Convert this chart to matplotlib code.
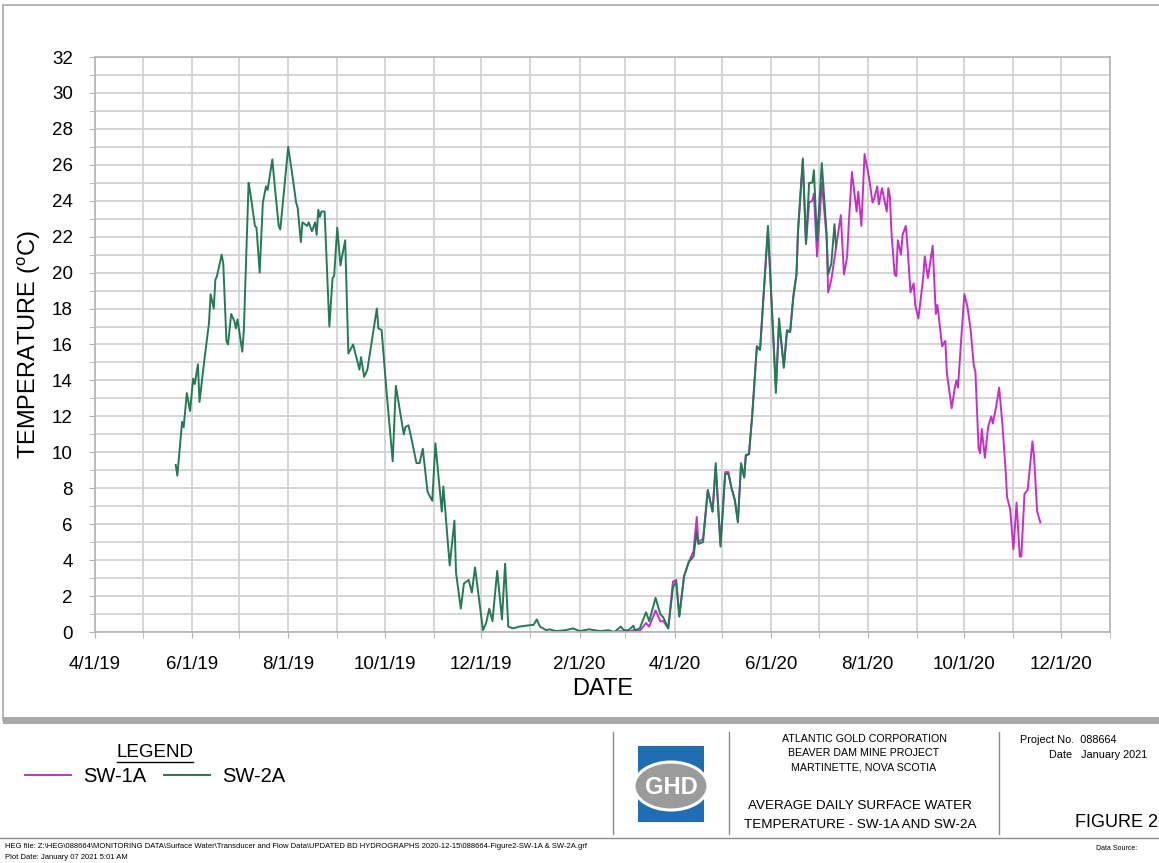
import matplotlib
matplotlib.use("Agg")
import matplotlib.pyplot as plt
import matplotlib.dates as mdates
from matplotlib.patches import Rectangle, Ellipse
import pandas as pd

plt.rcParams['font.family'] = ['Liberation Sans', 'DejaVu Sans']
plt.rcParams['mathtext.fontset'] = 'custom'
plt.rcParams['mathtext.rm'] = 'Liberation Sans'

NARROW = ['Liberation Sans Narrow', 'Liberation Sans', 'DejaVu Sans']

# SW-2A daily average temperature (deg C)
sw2a_dates = [
    "2019-05-22", "2019-05-23", "2019-05-26", "2019-05-27", "2019-05-29", "2019-05-31",
    "2019-06-02", "2019-06-03", "2019-06-05", "2019-06-06", "2019-06-09", "2019-06-12",
    "2019-06-13", "2019-06-15", "2019-06-16", "2019-06-17", "2019-06-20", "2019-06-21",
    "2019-06-23", "2019-06-24", "2019-06-26", "2019-06-28", "2019-06-29", "2019-06-30",
    "2019-07-03", "2019-07-04", "2019-07-07", "2019-07-08", "2019-07-11", "2019-07-12",
    "2019-07-14", "2019-07-16", "2019-07-18", "2019-07-19", "2019-07-22", "2019-07-23",
    "2019-07-26", "2019-07-27", "2019-07-29", "2019-08-01", "2019-08-04", "2019-08-06",
    "2019-08-07", "2019-08-09", "2019-08-10", "2019-08-13", "2019-08-14", "2019-08-16",
    "2019-08-18", "2019-08-19", "2019-08-20", "2019-08-21", "2019-08-22", "2019-08-24",
    "2019-08-27", "2019-08-29", "2019-08-30", "2019-09-01", "2019-09-03", "2019-09-04",
    "2019-09-06", "2019-09-08", "2019-09-11", "2019-09-15", "2019-09-16", "2019-09-18",
    "2019-09-20", "2019-09-23", "2019-09-26", "2019-09-27", "2019-09-29", "2019-10-02",
    "2019-10-06", "2019-10-08", "2019-10-13", "2019-10-14", "2019-10-16", "2019-10-18",
    "2019-10-21", "2019-10-23", "2019-10-25", "2019-10-28", "2019-10-31", "2019-11-02",
    "2019-11-06", "2019-11-07", "2019-11-11", "2019-11-14", "2019-11-15", "2019-11-18",
    "2019-11-20", "2019-11-23", "2019-11-25", "2019-11-27", "2019-12-02", "2019-12-04",
    "2019-12-06", "2019-12-08", "2019-12-11", "2019-12-14", "2019-12-16", "2019-12-18",
    "2019-12-21", "2019-12-25", "2019-12-29", "2020-01-03", "2020-01-05", "2020-01-07",
    "2020-01-11", "2020-01-13", "2020-01-17", "2020-01-23", "2020-01-28", "2020-02-01",
    "2020-02-07", "2020-02-14", "2020-02-19", "2020-02-23", "2020-02-27", "2020-02-29",
    "2020-03-03", "2020-03-06", "2020-03-07", "2020-03-10", "2020-03-14", "2020-03-16",
    "2020-03-20", "2020-03-23", "2020-03-25", "2020-03-28", "2020-03-31", "2020-04-02",
    "2020-04-04", "2020-04-07", "2020-04-10", "2020-04-13", "2020-04-15", "2020-04-16",
    "2020-04-19", "2020-04-22", "2020-04-25", "2020-04-27", "2020-04-30", "2020-05-03",
    "2020-05-05", "2020-05-07", "2020-05-09", "2020-05-11", "2020-05-13", "2020-05-15",
    "2020-05-16", "2020-05-18", "2020-05-20", "2020-05-23", "2020-05-25", "2020-05-30",
    "2020-06-04", "2020-06-06", "2020-06-09", "2020-06-11", "2020-06-13", "2020-06-15",
    "2020-06-17", "2020-06-18", "2020-06-21", "2020-06-23", "2020-06-25", "2020-06-27",
    "2020-06-28", "2020-06-30", "2020-07-03", "2020-07-06", "2020-07-07", "2020-07-09",
    "2020-07-11", "2020-07-12",
]
sw2a_temp = [
    9.3, 8.7, 11.7, 11.4, 13.3, 12.3,
    14.1, 13.8, 14.9, 12.8, 15.1, 17.2,
    18.8, 18.0, 19.6, 19.8, 21.0, 20.5,
    16.2, 16.0, 17.7, 17.3, 16.9, 17.4,
    15.6, 16.8, 25.0, 24.5, 22.6, 22.5,
    20.0, 23.9, 24.8, 24.6, 26.3, 25.3,
    22.6, 22.4, 24.2, 27.0, 25.2, 23.9,
    23.6, 21.7, 22.8, 22.6, 22.8, 22.3,
    22.8, 22.1, 23.5, 23.1, 23.4, 23.4,
    17.0, 19.7, 19.8, 22.5, 20.4, 20.9,
    21.8, 15.5, 16.0, 14.6, 15.3, 14.2,
    14.6, 16.3, 18.0, 16.9, 16.8, 13.5,
    9.5, 13.7, 11.0, 11.4, 11.5, 10.7,
    9.4, 9.4, 10.2, 7.8, 7.3, 10.5,
    6.7, 8.1, 3.7, 6.2, 3.3, 1.3,
    2.7, 2.9, 2.2, 3.6, 0.1, 0.5,
    1.3, 0.6, 3.4, 0.7, 3.8, 0.3,
    0.2, 0.3, 0.35, 0.4, 0.7, 0.3,
    0.1, 0.15, 0.05, 0.1, 0.2, 0.05,
    0.15, 0.05, 0.1, 0.0, 0.3, 0.1,
    0.1, 0.35, 0.1, 0.2, 1.1, 0.6,
    1.9, 1.0, 0.8, 0.2, 2.5, 2.8,
    0.85, 3.1, 3.9, 4.2, 5.6, 4.9,
    5.0, 7.9, 6.7, 9.4, 4.75, 8.8,
    8.8, 8.0, 7.35, 6.1, 9.4, 8.6,
    9.85, 9.9, 12.0, 15.9, 15.7, 22.6,
    13.3, 17.45, 14.7, 16.8, 16.7, 18.7,
    19.9, 22.4, 26.35, 21.6, 25.0, 25.0,
    25.7, 21.8, 26.1, 22.2, 19.9, 20.5,
    22.7, 21.4,
]

# SW-1A daily average temperature (deg C)
sw1a_dates = [
    "2020-02-23", "2020-02-27", "2020-03-03", "2020-03-06", "2020-03-10", "2020-03-14",
    "2020-03-16", "2020-03-20", "2020-03-23", "2020-03-25", "2020-03-28", "2020-03-31",
    "2020-04-02", "2020-04-04", "2020-04-07", "2020-04-10", "2020-04-13", "2020-04-15",
    "2020-04-16", "2020-04-19", "2020-04-22", "2020-04-25", "2020-04-27", "2020-04-30",
    "2020-05-03", "2020-05-05", "2020-05-07", "2020-05-09", "2020-05-11", "2020-05-13",
    "2020-05-15", "2020-05-16", "2020-05-18", "2020-05-20", "2020-05-23", "2020-05-25",
    "2020-05-30", "2020-06-04", "2020-06-06", "2020-06-09", "2020-06-11", "2020-06-13",
    "2020-06-15", "2020-06-17", "2020-06-18", "2020-06-21", "2020-06-23", "2020-06-25",
    "2020-06-27", "2020-06-28", "2020-06-30", "2020-07-03", "2020-07-06", "2020-07-07",
    "2020-07-09", "2020-07-12", "2020-07-15", "2020-07-17", "2020-07-19", "2020-07-20",
    "2020-07-22", "2020-07-25", "2020-07-26", "2020-07-28", "2020-07-30", "2020-08-02",
    "2020-08-04", "2020-08-05", "2020-08-07", "2020-08-08", "2020-08-10", "2020-08-13",
    "2020-08-14", "2020-08-15", "2020-08-16", "2020-08-18", "2020-08-19", "2020-08-20",
    "2020-08-22", "2020-08-23", "2020-08-25", "2020-08-26", "2020-08-28", "2020-08-30",
    "2020-08-31", "2020-09-02", "2020-09-05", "2020-09-06", "2020-09-08", "2020-09-11",
    "2020-09-13", "2020-09-14", "2020-09-17", "2020-09-19", "2020-09-20", "2020-09-23",
    "2020-09-25", "2020-09-26", "2020-09-27", "2020-09-29", "2020-10-01", "2020-10-03",
    "2020-10-05", "2020-10-07", "2020-10-08", "2020-10-10", "2020-10-11", "2020-10-12",
    "2020-10-14", "2020-10-16", "2020-10-18", "2020-10-19", "2020-10-21", "2020-10-23",
    "2020-10-25", "2020-10-27", "2020-10-28", "2020-10-30", "2020-11-01", "2020-11-03",
    "2020-11-05", "2020-11-06", "2020-11-08", "2020-11-10", "2020-11-13", "2020-11-14",
    "2020-11-16", "2020-11-18",
]
sw1a_temp = [
    0.0, 0.05, 0.0, 0.1, 0.05, 0.5,
    0.3, 1.2, 0.6, 0.6, 0.2, 2.8,
    2.9, 0.9, 3.1, 3.9, 4.5, 6.4,
    5.0, 5.2, 7.9, 6.7, 9.2, 4.9,
    8.9, 8.9, 8.0, 7.4, 6.2, 9.3,
    8.6, 9.8, 9.9, 12.0, 15.9, 15.7,
    22.4, 13.6, 17.2, 14.8, 16.7, 16.7,
    18.6, 19.9, 22.3, 26.2, 21.6, 23.9,
    24.0, 24.4, 20.9, 25.0, 22.0, 18.9,
    19.6, 21.4, 23.2, 19.9, 20.9, 22.7,
    25.6, 23.4, 24.5, 22.6, 26.6, 25.2,
    23.9, 24.1, 24.8, 23.8, 24.7, 23.4,
    24.7, 24.2, 22.2, 19.9, 19.8, 21.8,
    21.0, 22.1, 22.6, 21.6, 18.9, 19.4,
    18.2, 17.45, 19.7, 20.9, 19.7, 21.5,
    17.7, 18.2, 15.9, 16.2, 14.4, 12.45,
    13.6, 14.0, 13.6, 16.25, 18.8, 18.1,
    16.8, 14.8, 14.5, 10.2, 9.95, 11.3,
    9.7, 11.4, 12.0, 11.6, 12.5, 13.6,
    11.6, 9.1, 7.5, 6.8, 4.6, 7.2,
    4.2, 4.2, 7.7, 7.9, 10.6, 9.8,
    6.7, 6.1,
]

series_names = ["SW-1A", "SW-2A"]
series_colors = ["#c62fc6", "#237a55"]

W, H = 1159, 863
fig = plt.figure(figsize=(W / 100, H / 100), dpi=100)

# overlay in pixel coordinates for the drawing sheet (frame, title block)
sheet = fig.add_axes([0, 0, 1, 1], zorder=0)
sheet.set_xlim(0, W)
sheet.set_ylim(H, 0)
sheet.axis('off')

sheet.plot([3, W], [5, 5], color='#a8a8a8', lw=1.2)
sheet.plot([3, 3], [5, 720], color='#a8a8a8', lw=1.2)
sheet.add_patch(Rectangle((3, 717), W, 7, color='#a9a9a9', lw=0))
for xv in [613, 729, 999]:
    sheet.plot([xv, xv], [732, 834], color='#8a8a8a', lw=1.0)
sheet.plot([0, W], [838, 838], color='#8a8a8a', lw=1.0)

# GHD logo
sheet.add_patch(Rectangle((638, 746), 66, 76, color='#1f6db3', lw=0))
sheet.add_patch(Ellipse((671, 786), 74, 48, facecolor='#9b9b9b', edgecolor='white', lw=2.2))
sheet.text(671, 787, "GHD", color='white', fontsize=17, fontweight='bold',
           ha='center', va='center')

cx = 864
sheet.text(cx, 739, "ATLANTIC GOLD CORPORATION", family=NARROW, fontsize=7.7, ha='center', va='center')
sheet.text(cx, 753, "BEAVER DAM MINE PROJECT", family=NARROW, fontsize=7.7, ha='center', va='center')
sheet.text(cx, 767, "MARTINETTE, NOVA SCOTIA", family=NARROW, fontsize=7.7, ha='center', va='center')
sheet.text(860, 806, "AVERAGE DAILY SURFACE WATER", family=NARROW, fontsize=9.7, ha='center', va='center')
sheet.text(860, 825, "TEMPERATURE - SW-1A AND SW-2A", family=NARROW, fontsize=9.7, ha='center', va='center')

sheet.text(1020, 740, "Project No.  088664", family=NARROW, fontsize=7.8, ha='left', va='center')
sheet.text(1049, 755, "Date   January 2021", family=NARROW, fontsize=7.8, ha='left', va='center')
sheet.text(1075, 822, "FIGURE 2", family=NARROW, fontsize=13, ha='left', va='center')
sheet.text(1096, 848, "Data Source:", family=NARROW, fontsize=5, ha='left', va='center')

sheet.text(5, 846, "HEG file: Z:\\HEG\\088664\\MONITORING DATA\\Surface Water\\Transducer and Flow Data\\"
           "UPDATED BD HYDROGRAPHS 2020-12-15\\088664-Figure2-SW-1A & SW-2A.grf",
           family=NARROW, fontsize=5.5, ha='left', va='center')
sheet.text(5, 857, "Plot Date: January 07 2021 5:01 AM", family=NARROW, fontsize=5.5, ha='left', va='center')

# legend title with underline
sheet.text(155, 752, "LEGEND", fontsize=13.5, ha='center', va='center')
sheet.plot([117, 193], [761.5, 761.5], color='black', lw=1.0)

# main chart
ax = fig.add_axes([95 / W, 1 - 632 / H, (1110 - 95) / W, (632 - 57) / H], zorder=1)
ax.patch.set_alpha(0)

x1 = pd.to_datetime(sw1a_dates)
x2 = pd.to_datetime(sw2a_dates)
l1, = ax.plot(x1, sw1a_temp, color=series_colors[0], lw=1.4, label=series_names[0])
l2, = ax.plot(x2, sw2a_temp, color=series_colors[1], lw=1.4, label=series_names[1])

ax.set_xlim(pd.Timestamp("2019-04-01"), pd.Timestamp("2021-01-01"))
ax.set_ylim(0, 32)
ax.xaxis.set_major_locator(mdates.MonthLocator(bymonth=[2, 4, 6, 8, 10, 12]))
ax.xaxis.set_minor_locator(mdates.MonthLocator())
ax.xaxis.set_major_formatter(plt.FuncFormatter(
    lambda v, p: (lambda d: f"{d.month}/{d.day}/{d:%y}")(mdates.num2date(v))))
ax.set_yticks(range(0, 33, 2))
ax.set_yticks(range(1, 32, 2), minor=True)

ax.grid(True, which='both', color='#d2d2d2', lw=1.3)
ax.set_axisbelow(True)
for s in ax.spines.values():
    s.set_color('#b4b4b4')
    s.set_linewidth(1.2)
ax.tick_params(which='both', direction='out', length=4, color='#b4b4b4', labelsize=13.5)
ax.tick_params(axis='x', pad=13)
ax.tick_params(axis='y', pad=12)

ax.set_xlabel("DATE", fontsize=17, labelpad=4)
ax.set_ylabel(r"TEMPERATURE ($^{\mathrm{o}}$C)", fontsize=17, labelpad=6)

fig.legend(handles=[l1, l2], loc='center left', bbox_to_anchor=(7 / W, 1 - 777 / H),
           ncol=2, frameon=False, fontsize=14.5, handlelength=2.3,
           handletextpad=0.6, columnspacing=0.85, borderpad=0.4)

fig.savefig("out.png", dpi=100)
